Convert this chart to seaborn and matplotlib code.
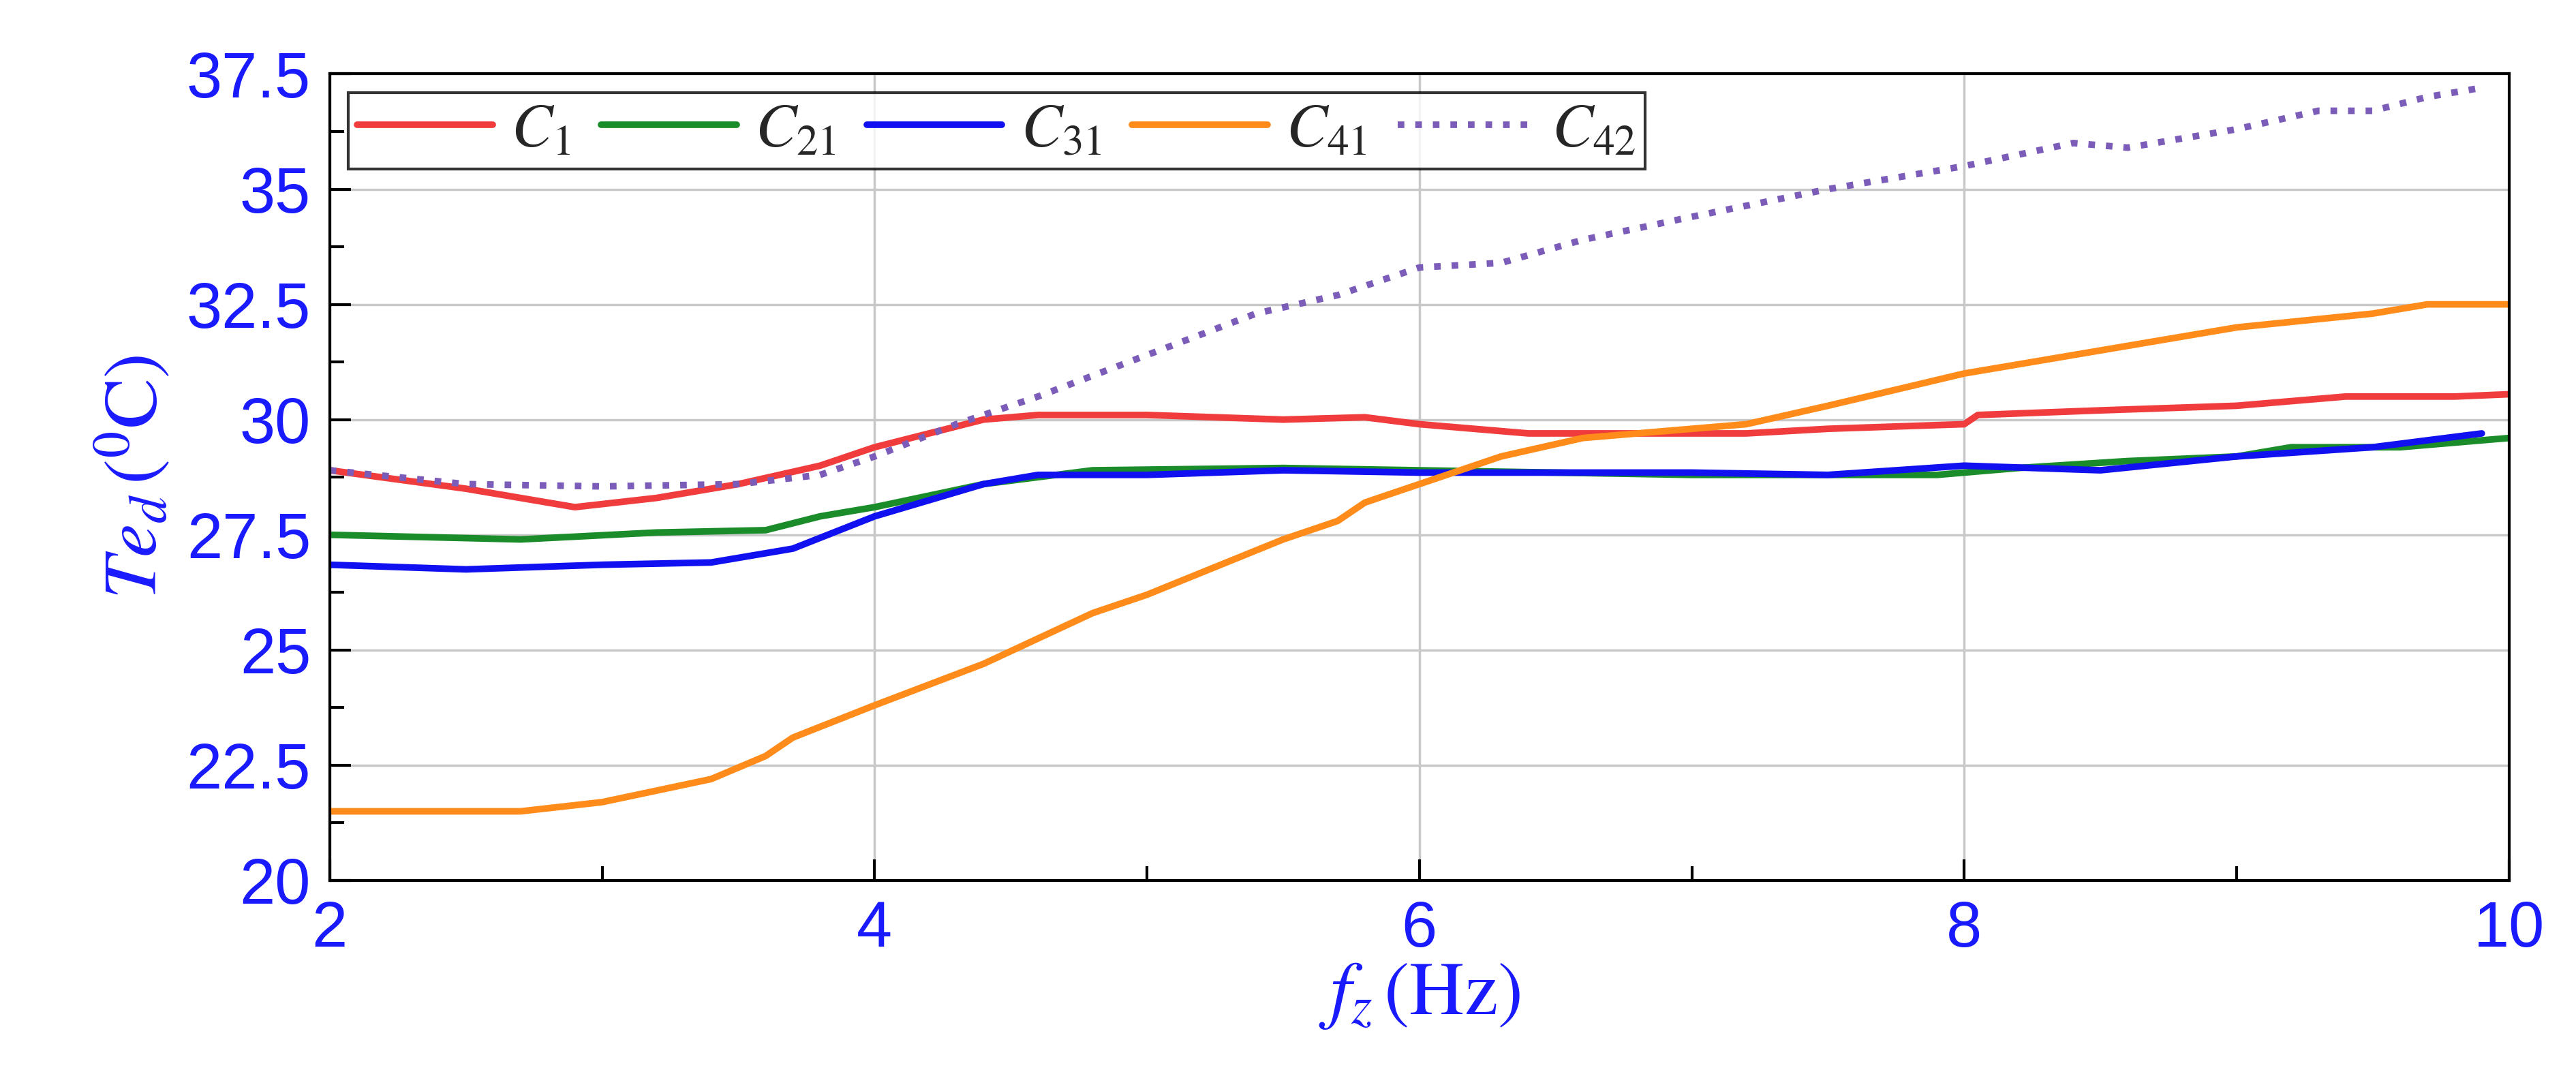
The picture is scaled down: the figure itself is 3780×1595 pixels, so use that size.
import numpy as np
import pandas as pd
import matplotlib
matplotlib.use("Agg")
import matplotlib.pyplot as plt
import seaborn as sns
from matplotlib.ticker import MultipleLocator

# --- data ---
c1_x = [2, 2.5, 2.9, 3.2, 3.5, 3.8, 4.0, 4.4, 4.6, 5.0, 5.5, 5.8, 6.0, 6.4, 6.8, 7.2, 7.5, 8.0, 8.05, 8.5, 9.0, 9.4, 9.8, 10]
c1_y = [28.9, 28.5, 28.1, 28.3, 28.6, 29.0, 29.4, 30.0, 30.1, 30.1, 30.0, 30.05, 29.9, 29.7, 29.7, 29.7, 29.8, 29.9, 30.1, 30.2, 30.3, 30.5, 30.5, 30.55]
c21_x = [2, 2.7, 3.2, 3.6, 3.8, 4.0, 4.4, 4.8, 5.5, 6.0, 6.5, 7.0, 7.5, 7.9, 8.2, 8.6, 9.0, 9.2, 9.6, 10]
c21_y = [27.5, 27.4, 27.55, 27.6, 27.9, 28.1, 28.6, 28.9, 28.95, 28.9, 28.85, 28.8, 28.8, 28.8, 28.95, 29.1, 29.2, 29.4, 29.4, 29.6]
c31_x = [2, 2.5, 3.0, 3.4, 3.7, 4.0, 4.4, 4.6, 5.0, 5.5, 6.0, 6.5, 7.0, 7.5, 8.0, 8.5, 9.0, 9.5, 9.9]
c31_y = [26.85, 26.75, 26.85, 26.9, 27.2, 27.9, 28.6, 28.8, 28.8, 28.9, 28.85, 28.85, 28.85, 28.8, 29.0, 28.9, 29.2, 29.4, 29.7]
c41_x = [2, 2.7, 3.0, 3.4, 3.6, 3.7, 4.0, 4.4, 4.8, 5.0, 5.5, 5.7, 5.8, 6.0, 6.3, 6.6, 7.0, 7.2, 7.5, 8.0, 8.5, 9.0, 9.5, 9.7, 10]
c41_y = [21.5, 21.5, 21.7, 22.2, 22.7, 23.1, 23.8, 24.7, 25.8, 26.2, 27.4, 27.8, 28.2, 28.6, 29.2, 29.6, 29.8, 29.9, 30.3, 31.0, 31.5, 32.0, 32.3, 32.5, 32.5]
c42_x = [2, 2.5, 3.0, 3.5, 3.8, 4.0, 4.3, 4.6, 5.0, 5.4, 5.7, 6.0, 6.3, 6.6, 7.0, 7.5, 8.0, 8.4, 8.6, 9.0, 9.3, 9.5, 9.7, 9.9]
c42_y = [28.9, 28.6, 28.55, 28.6, 28.8, 29.2, 29.9, 30.5, 31.4, 32.3, 32.7, 33.3, 33.4, 33.9, 34.4, 35.0, 35.5, 36.0, 35.9, 36.3, 36.7, 36.7, 37.0, 37.2]

series = [
    (r"$C_{1}$", c1_x, c1_y, "#f03c3c", "-"),
    (r"$C_{21}$", c21_x, c21_y, "#1a8c2a", "-"),
    (r"$C_{31}$", c31_x, c31_y, "#1010f0", "-"),
    (r"$C_{41}$", c41_x, c41_y, "#ff8c1a", "-"),
    (r"$C_{42}$", c42_x, c42_y, "#7b5cb8", ":"),
]

sns.set_style("white")
plt.rcParams["font.family"] = ["Liberation Sans", "DejaVu Sans"]
plt.rcParams["mathtext.fontset"] = "stix"

fig = plt.figure(figsize=(15.12, 6.38), dpi=250)
ax = fig.add_axes([0.128, 0.19, 0.846, 0.742])

for label, xs, ys, color, ls in series:
    df = pd.DataFrame({"x": xs, "y": ys})
    sns.lineplot(data=df, x="x", y="y", ax=ax, color=color, linestyle=ls,
                 linewidth=2.8, label=label)

ax.set_xlim(2, 10)
ax.set_ylim(20, 37.5)
ax.xaxis.set_major_locator(MultipleLocator(2))
ax.xaxis.set_minor_locator(MultipleLocator(1))
ax.yaxis.set_major_locator(MultipleLocator(2.5))
ax.yaxis.set_minor_locator(MultipleLocator(1.25))
ax.grid(True, which="major", color="#c8c8c8", linewidth=1)
ax.tick_params(which="both", direction="in", bottom=True, left=True, colors="black",
               labelcolor="#1a1aff", labelsize=27, pad=8)
ax.tick_params(which="major", length=9, width=1.2)
ax.tick_params(which="minor", length=6, width=1.2)
ax.yaxis.set_major_formatter(matplotlib.ticker.FuncFormatter(lambda v, p: f"{v:g}"))
for s in ax.spines.values():
    s.set_color("black")
    s.set_linewidth(1.2)

ax.set_xlabel(r"$f_z\,\left(\mathrm{Hz}\right)$", fontsize=32, color="#1a1aff", labelpad=0)
ax.set_ylabel(r"$Te_d\,\left(^{0}\mathrm{C}\right)$", fontsize=32, color="#1a1aff", labelpad=6)

leg = ax.legend(loc="upper left", ncol=5, fontsize=26, frameon=True, fancybox=False,
                edgecolor="black", handlelength=2.2, columnspacing=0.5, handletextpad=0.3,
                borderaxespad=0.3, borderpad=0.15)
leg.get_frame().set_linewidth(1.2)

fig.savefig("out.png", dpi=250)
